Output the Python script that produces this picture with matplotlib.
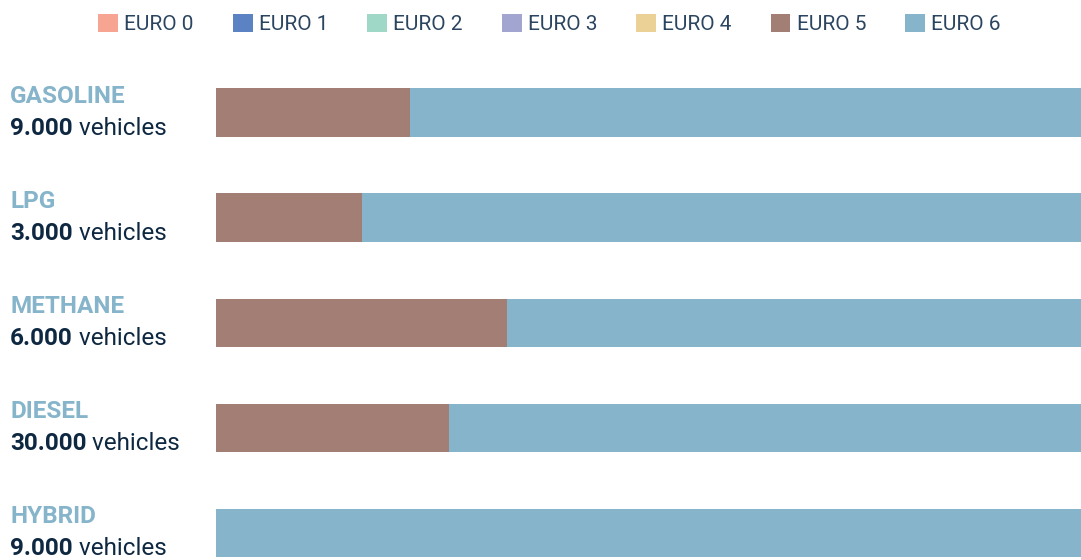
import numpy as np
import matplotlib
matplotlib.use("Agg")
from matplotlib import pyplot as plt
from matplotlib.patches import Patch

plt.rcParams['font.family'] = ['Roboto', 'DejaVu Sans']

fuels = ['GASOLINE', 'LPG', 'METHANE', 'DIESEL', 'HYBRID']
vehicles = ['9.000', '3.000', '6.000', '30.000', '9.000']
classes = ['EURO 0', 'EURO 1', 'EURO 2', 'EURO 3', 'EURO 4', 'EURO 5', 'EURO 6']
colors = ['#f7a592', '#5b82c2', '#a0d8c8', '#a3a5d1', '#ebd195', '#a37e74', '#85b4cb']

# share (%) of each euro class per fuel
euro0 = [0, 0, 0, 0, 0]
euro1 = [0, 0, 0, 0, 0]
euro2 = [0, 0, 0, 0, 0]
euro3 = [0, 0, 0, 0, 0]
euro4 = [0, 0, 0, 0, 0]
euro5 = [22.4, 16.9, 33.6, 26.9, 0]
euro6 = [77.6, 83.1, 66.4, 73.1, 100]
shares = [euro0, euro1, euro2, euro3, euro4, euro5, euro6]

W, H = 1081, 560
fig = plt.figure(figsize=(W / 100, H / 100), dpi=100)
# axes spans from pixel 60 (top) to bottom of the figure
ax = fig.add_axes([216 / W, 0, 1 - 216 / W, (H - 60) / H])

y = np.arange(len(fuels))
left = np.zeros(len(fuels))
for vals, c in zip(shares, colors):
    vals = np.array(vals, dtype=float)
    ax.barh(y, vals, left=left, height=0.46, color=c, edgecolor='none')
    left += vals

ax.set_xlim(0, 100)
ax.set_ylim(4 + 27 / 105, -0.5)
ax.axis('off')

for i, (f, v) in enumerate(zip(fuels, vehicles)):
    ax.annotate(f, xy=(0, i), xycoords=('axes fraction', 'data'),
                xytext=(-206, 16), textcoords='offset pixels',
                ha='left', va='center', fontsize=17.5, fontweight='bold',
                color='#85b4cb')
    t = ax.annotate(v, xy=(0, i), xycoords=('axes fraction', 'data'),
                    xytext=(-206, -16), textcoords='offset pixels',
                    ha='left', va='center', fontsize=17.5, fontweight='bold',
                    color='#0e2841')
    ax.annotate(' vehicles', xycoords=t, xy=(1, 0.5), ha='left', va='center',
                fontsize=17.5, color='#0e2841')

handles = [Patch(facecolor=c, edgecolor='none', label=l) for c, l in zip(colors, classes)]
fig.legend(handles=handles, loc='center', bbox_to_anchor=(549.5 / W, 1 - 24 / H), ncol=7,
           frameon=False, fontsize=15, handlelength=0.95, handleheight=0.95,
           handletextpad=0.3, columnspacing=1.87, labelcolor='#2b4560')

fig.savefig('out.png', dpi=100)
